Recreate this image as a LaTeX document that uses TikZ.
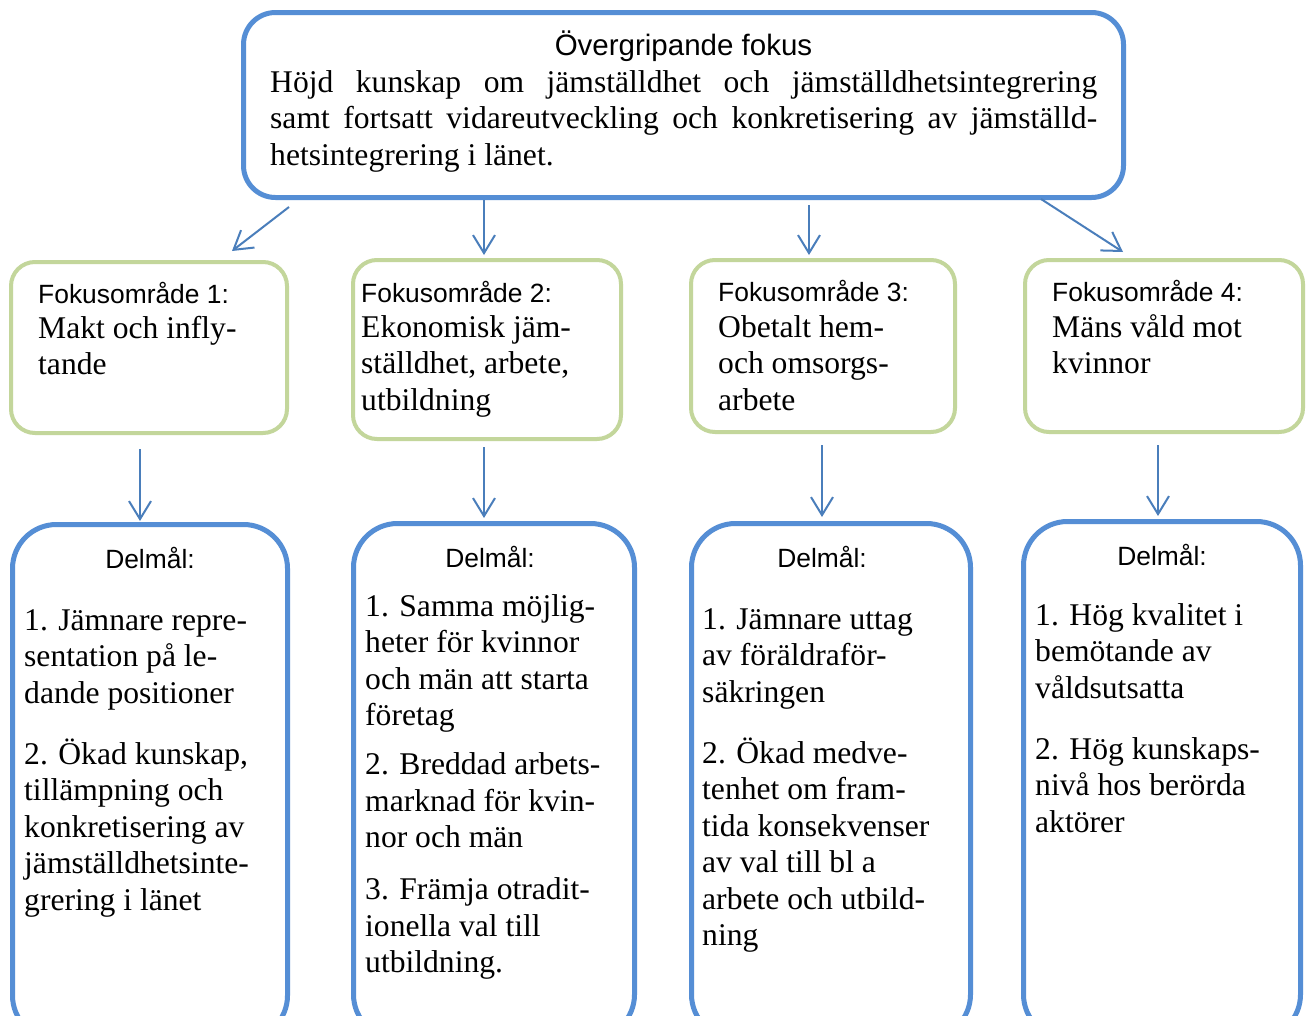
\documentclass[tikz,border=0pt]{standalone}
\usepackage{fontspec}
\setmainfont{Liberation Serif}
\newfontfamily\arialf{Liberation Sans}
\usetikzlibrary{arrows.meta}
\definecolor{bblue}{HTML}{558ED5}
\definecolor{ablue}{HTML}{4A7EBB}
\definecolor{bgreen}{HTML}{C3D69B}
\begin{document}
\begin{tikzpicture}[x=1pt,y=-1pt,
  bluebox/.style={draw=bblue, line width=5pt, rounded corners=32pt, inner sep=0pt, fill=white},
  lowbox/.style={draw=bblue, line width=5pt, rounded corners=44pt, inner sep=0pt, fill=white},
  greenbox/.style={draw=bgreen, line width=4pt, rounded corners=24pt, inner sep=0pt, fill=white},
  hdr/.style={font=\arialf\fontsize{26.4}{30}\selectfont, inner sep=0pt},
  body/.style={font=\fontsize{31.6}{36.5}\selectfont, inner sep=0pt, anchor=north west, align=left},
  conn/.style={draw=ablue, line width=2pt, -{Straight Barb[length=18pt,width=22pt]}}]
\useasboundingbox (0,0) rectangle (1308,1015);
\fill[white] (0,0) rectangle (1308,1015);

% boxes
\node[bluebox, minimum width=880pt, minimum height=185pt] (top) at (683.5,105) {};
\node[greenbox, minimum width=276pt, minimum height=171pt] (f1) at (149,347.5) {};
\node[greenbox, minimum width=268pt, minimum height=179pt] (f2) at (487,349.5) {};
\node[greenbox, minimum width=264pt, minimum height=172pt] (f3) at (823,346) {};
\node[greenbox, minimum width=278pt, minimum height=172pt] (f4) at (1164,346) {};
\node[lowbox, minimum width=275pt, minimum height=515pt] (d1) at (150,782) {};
\node[lowbox, minimum width=281pt, minimum height=515pt] (d2) at (494,781) {};
\node[lowbox, minimum width=279pt, minimum height=515pt] (d3) at (831,781) {};
\node[lowbox, minimum width=277pt, minimum height=517pt] (d4) at (1162,780) {};

% top text
\node[hdr, anchor=base, font=\arialf\fontsize{29.5}{33}\selectfont] (toph) at (683.5,55) {Övergripande fokus};
\node[body] (topb) at (270,62) {\rule{0pt}{30pt}\makebox[827pt][s]{Höjd kunskap om jämställdhet och jämställdhetsintegrering}\\
\makebox[827pt][s]{samt fortsatt vidareutveckling och konkretisering av jämställd-}\\
hetsintegrering i länet.};

% focus areas
\node[hdr, anchor=base west] (f1h) at (38,303) {Fokusområde 1:};
\node[body] (f1b) at (38,308) {\rule{0pt}{30pt}Makt och infly-\\tande};
\node[hdr, anchor=base west] (f2h) at (361,302) {Fokusområde 2:};
\node[body] (f2b) at (361,307) {\rule{0pt}{30pt}Ekonomisk jäm-\\ställdhet, arbete,\\utbildning};
\node[hdr, anchor=base west] (f3h) at (718,301) {Fokusområde 3:};
\node[body] (f3b) at (718,307) {\rule{0pt}{30pt}Obetalt hem-\\och omsorgs-\\arbete};
\node[hdr, anchor=base west] (f4h) at (1052,301) {Fokusområde 4:};
\node[body] (f4b) at (1052,307) {\rule{0pt}{30pt}Mäns våld mot\\kvinnor};

% delmål
\node[hdr, anchor=base] (d1h) at (150,568) {Delmål:};
\node[body] (d1b) at (24,600) {\rule{0pt}{30pt}1. Jämnare repre-\\sentation på le-\\dande positioner\\[24.5pt]2. Ökad kunskap,\\tillämpning och\\konkretisering av\\jämställdhetsinte-\\grering i länet};
\node[hdr, anchor=base] (d2h) at (490,567) {Delmål:};
\node[body] (d2b) at (365,586) {\rule{0pt}{30pt}1. Samma möjlig-\\heter för kvinnor\\och män att starta\\företag\\[12.5pt]2. Breddad arbets-\\marknad för kvin-\\nor och män\\[15.5pt]3. Främja otradit-\\ionella val till\\utbildning.};
\node[hdr, anchor=base] (d3h) at (822,567) {Delmål:};
\node[body] (d3b) at (702,599) {\rule{0pt}{30pt}1. Jämnare uttag\\av föräldraför-\\säkringen\\[24.5pt]2. Ökad medve-\\tenhet om fram-\\tida konsekvenser\\av val till bl a\\arbete och utbild-\\ning};
\node[hdr, anchor=base] (d4h) at (1162,565) {Delmål:};
\node[body] (d4b) at (1035,595) {\rule{0pt}{30pt}1. Hög kvalitet i\\bemötande av\\våldsutsatta\\[24.5pt]2. Hög kunskaps-\\nivå hos berörda\\aktörer};

% connector ends
\coordinate (a1s) at (289,207); \coordinate (a1e) at (232,251);
\coordinate (a2s) at (484,200); \coordinate (a2e) at (484,255);
\coordinate (a3s) at (809,205); \coordinate (a3e) at (809,255);
\coordinate (a4s) at (1041,199); \coordinate (a4e) at (1123,252);
\coordinate (b1s) at (140,449); \coordinate (b1e) at (140,521);
\coordinate (b2s) at (484,447); \coordinate (b2e) at (484,518);
\coordinate (b3s) at (822,445); \coordinate (b3e) at (822,517);
\coordinate (b4s) at (1158,445); \coordinate (b4e) at (1158,516);

\draw[conn] (a1s) -- (a1e);
\draw[conn] (a2s) -- (a2e);
\draw[conn] (a3s) -- (a3e);
\draw[conn] (a4s) -- (a4e);
\draw[conn] (b1s) -- (b1e);
\draw[conn] (b2s) -- (b2e);
\draw[conn] (b3s) -- (b3e);
\draw[conn] (b4s) -- (b4e);
\end{tikzpicture}
\end{document}
